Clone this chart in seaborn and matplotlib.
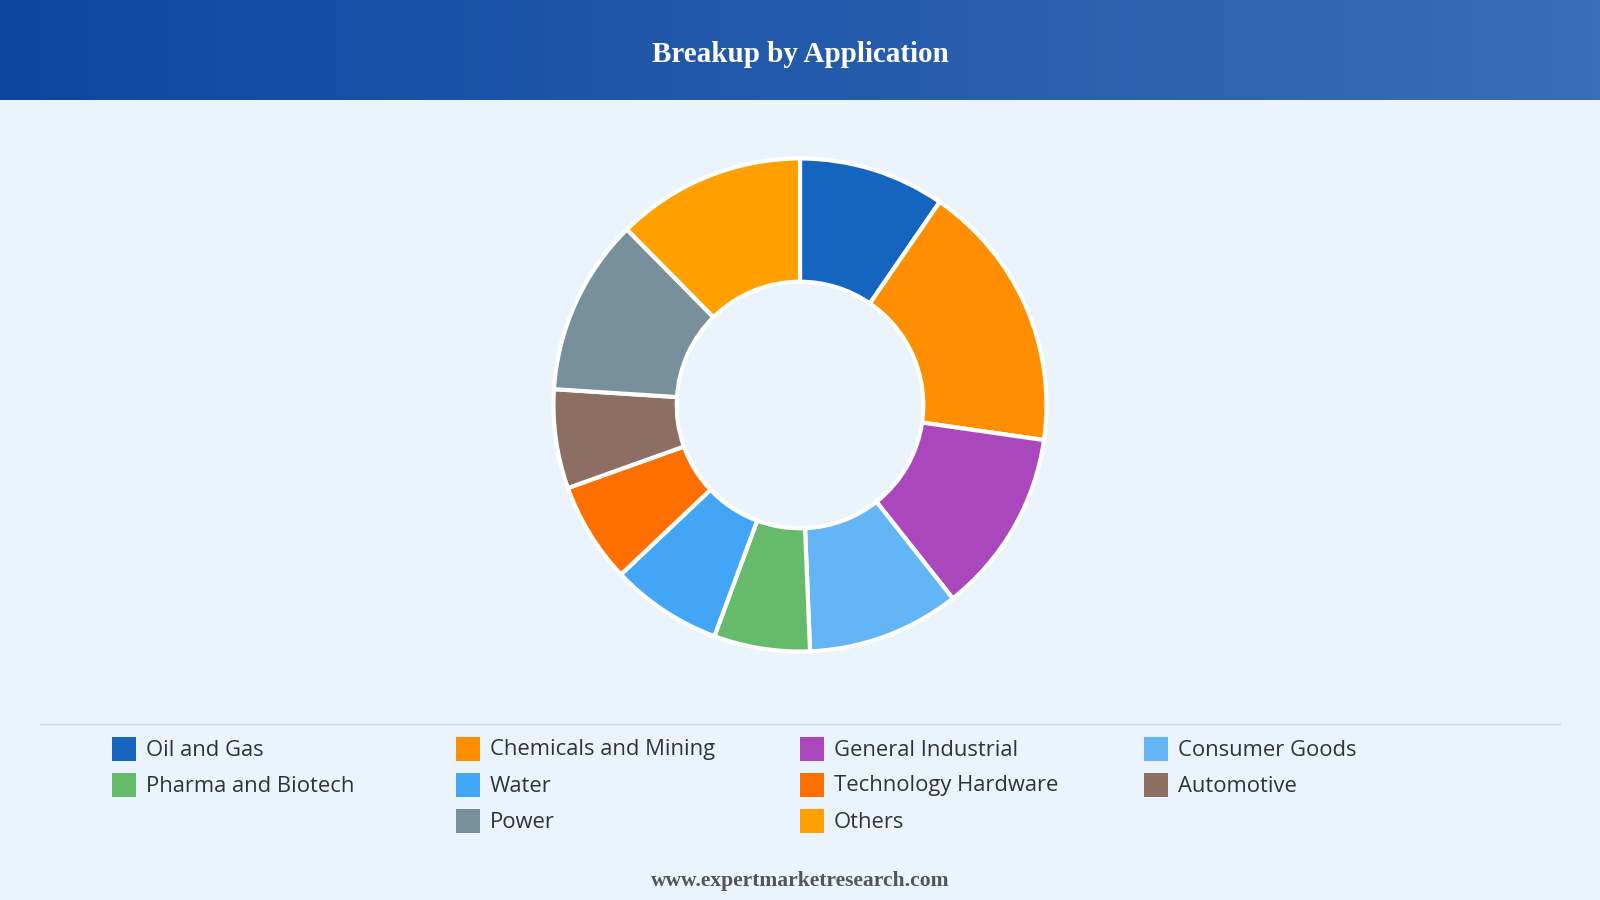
import numpy as np
import matplotlib
matplotlib.use("Agg")
import matplotlib.pyplot as plt
import seaborn as sns
from matplotlib.patches import Rectangle
from matplotlib.colors import LinearSegmentedColormap

sns.set_theme(style="white")
plt.rcParams['font.family'] = ['Open Sans', 'DejaVu Sans']

categories = ["Oil and Gas", "Chemicals and Mining", "General Industrial", "Consumer Goods",
              "Pharma and Biotech", "Water", "Technology Hardware", "Automotive", "Power", "Others"]
values = [9.6, 17.7, 12.1, 10.0, 6.3, 7.3, 6.6, 6.5, 11.6, 12.4]
colors = ["#1565C0", "#FF8F00", "#AB47BC", "#64B5F6", "#66BB6A", "#42A5F5",
          "#FF6F00", "#8D6E63", "#78909C", "#FFA000"]

W, H = 1600, 900
fig = plt.figure(figsize=(16, 9), dpi=100)
fig.patch.set_facecolor("#EBF3FC")

hh = 100
hax = fig.add_axes([0, 1 - hh / H, 1, hh / H])
grad = np.linspace(0, 1, 256).reshape(1, -1)
cmap = LinearSegmentedColormap.from_list("h", ["#0D47A1", "#3A6DB5"])
hax.imshow(grad, aspect="auto", cmap=cmap, extent=[0, 1, 0, 1])
hax.set_axis_off()
hax.text(0.5, 0.45, "Breakup by Application", ha="center", va="center", color="white",
         fontsize=21, fontweight="bold", family=["Liberation Serif", "DejaVu Serif"])

cx, cy, r = 800, 405, 249
ax = fig.add_axes([(cx - r) / W, 1 - (cy + r) / H, 2 * r / W, 2 * r / H])
ax.pie(values, colors=colors, startangle=90, counterclock=False, radius=1,
       wedgeprops=dict(width=0.5, edgecolor="white", linewidth=3))
ax.set_xlim(-1.01, 1.01)
ax.set_ylim(-1.01, 1.01)
ax.set_aspect("equal")
ax.set_axis_off()

fig.add_artist(plt.Line2D([40 / W, 1560 / W], [1 - 724 / H] * 2, color="#D0D4D9", lw=1))

xs = [112, 456, 800, 1144]
rows = [749, 785, 821]
positions = [(xs[i % 4], rows[i // 4]) for i in range(8)]
positions += [(xs[1], rows[2]), (xs[2], rows[2])]
for (x, y), lab, c in zip(positions, categories, colors):
    fig.add_artist(Rectangle((x / W, 1 - (y + 12) / H), 24 / W, 24 / H, facecolor=c,
                             edgecolor="none", transform=fig.transFigure))
    fig.text((x + 34) / W, 1 - (y + 1) / H, lab, ha="left", va="center", fontsize=15.8, color="#333333")

fig.text(0.5, 1 - 881 / H, "www.expertmarketresearch.com", ha="center", va="center",
         fontsize=15.5, fontweight="bold", color="#555555",
         family=["Liberation Serif", "DejaVu Serif"])

fig.savefig("out.png", dpi=100, facecolor=fig.get_facecolor())
